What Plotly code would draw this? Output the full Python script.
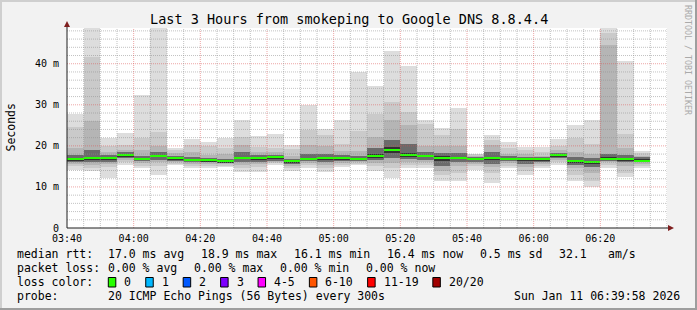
import plotly.graph_objects as go
from datetime import datetime, timedelta

# ---------------- data ----------------
day = "2026-01-11"
bin_times = ["03:40", "03:45", "03:50", "03:55", "04:00", "04:05", "04:10", "04:15",
             "04:20", "04:25", "04:30", "04:35", "04:40", "04:45", "04:50", "04:55",
             "05:00", "05:05", "05:10", "05:15", "05:20", "05:25", "05:30", "05:35",
             "05:40", "05:45", "05:50", "05:55", "06:00", "06:05", "06:10", "06:15",
             "06:20", "06:25", "06:30"]

# sorted ping ranks (ms) out of 20 pings per 5-minute step
p01 = [14.2, 13.9, 12.2, 15.4, 14.6, 12.8, 15.3, 14.6, 14.6, 14.9, 13.6, 13.6, 15.4, 13.8, 14.5, 13.6, 14.9, 15.3,
       14.0, 12.2, 14.5, 14.6, 11.4, 11.4, 14.1, 11.0, 14.5, 12.8, 14.5, 15.4, 11.4, 10.0, 14.6, 12.4, 14.5]
p02 = [15.0, 14.5, 14.8, 16.0, 15.2, 15.0, 15.7, 15.2, 15.2, 15.2, 14.5, 14.8, 15.8, 14.5, 15.3, 14.5, 15.4, 15.7,
       15.0, 14.5, 15.3, 15.3, 12.8, 13.5, 15.0, 13.5, 15.2, 13.8, 15.2, 16.0, 13.0, 11.5, 15.4, 13.5, 15.0]
p03 = [15.6, 15.3, 15.5, 16.6, 15.8, 16.0, 16.0, 15.6, 15.6, 15.5, 15.3, 15.5, 16.1, 15.0, 15.8, 15.3, 15.8, 16.0,
       15.8, 15.8, 16.0, 16.0, 14.0, 15.0, 15.6, 14.8, 15.8, 14.8, 15.7, 16.6, 14.5, 13.5, 16.0, 15.0, 15.5]
p07 = [16.0, 16.0, 16.0, 17.0, 16.2, 16.6, 16.4, 16.0, 16.0, 15.8, 16.0, 16.0, 16.4, 15.5, 16.2, 16.0, 16.2, 16.3,
       16.5, 17.0, 16.8, 16.6, 15.2, 16.0, 16.1, 15.7, 16.2, 15.6, 16.1, 17.1, 15.4, 14.8, 16.4, 16.0, 16.0]
p10 = [16.4, 16.6, 16.5, 17.4, 16.5, 17.2, 16.8, 16.4, 16.3, 16.0, 16.7, 16.5, 16.8, 15.9, 16.5, 16.6, 16.6, 16.5,
       17.0, 18.3, 17.3, 17.2, 16.4, 16.8, 16.6, 16.5, 16.6, 16.3, 16.4, 17.5, 15.9, 15.7, 16.7, 16.4, 16.2]
median = [16.7, 17.0, 17.0, 17.8, 16.7, 17.5, 17.0, 16.6, 16.5, 16.2, 17.1, 17.0, 17.2, 16.2, 16.7, 17.0, 17.0, 16.7,
          17.5, 18.9, 17.7, 17.5, 17.1, 17.1, 16.9, 17.0, 16.9, 16.7, 16.7, 17.7, 16.2, 16.1, 16.9, 16.7, 16.4]
p11 = [17.0, 17.4, 17.3, 18.0, 17.0, 17.8, 17.2, 16.8, 16.7, 16.4, 17.4, 17.3, 17.4, 16.4, 17.1, 17.3, 17.3, 17.0,
       18.0, 19.8, 18.2, 17.8, 17.5, 17.4, 17.1, 17.4, 17.1, 17.0, 17.0, 17.9, 16.5, 16.4, 17.2, 17.0, 16.7]
p14 = [17.8, 19.0, 17.8, 18.5, 17.6, 18.5, 17.6, 17.3, 17.0, 16.9, 18.5, 17.8, 17.8, 16.8, 18.0, 18.0, 17.8, 17.6,
       19.5, 21.4, 20.5, 18.5, 18.2, 18.2, 17.3, 18.5, 17.5, 17.4, 17.3, 18.2, 17.2, 17.0, 18.0, 17.8, 17.2]
p18 = [19.5, 26.0, 18.5, 19.0, 19.0, 20.0, 18.3, 18.5, 17.8, 18.0, 20.1, 18.5, 18.4, 17.5, 20.1, 20.0, 18.8, 18.7,
       22.2, 26.4, 25.0, 20.0, 20.0, 20.0, 17.6, 20.2, 18.1, 18.0, 17.6, 19.0, 18.5, 18.0, 44.5, 19.5, 17.6]
p19 = [24.6, 41.6, 20.0, 20.1, 21.8, 23.3, 19.0, 20.3, 20.0, 19.5, 22.2, 19.7, 19.5, 19.2, 23.8, 22.6, 20.5, 23.5,
       27.8, 30.7, 28.2, 25.4, 22.6, 24.2, 18.0, 21.5, 19.5, 19.0, 18.5, 20.0, 22.0, 20.5, 47.5, 23.0, 18.2]
p20 = [27.7, 50.0, 21.8, 23.1, 32.5, 50.0, 19.6, 21.6, 20.9, 22.0, 26.2, 22.3, 22.8, 20.3, 29.9, 24.0, 26.2, 38.1,
       34.5, 43.2, 39.4, 26.4, 24.3, 29.2, 18.1, 22.6, 20.9, 19.7, 19.7, 21.6, 25.0, 26.2, 50.0, 40.6, 18.8]

y_tick_vals = [0, 10, 20, 30, 40]
y_tick_text = ["0", "10 m", "20 m", "30 m", "40 m"]
x_tick_text = ["03:40", "04:00", "04:20", "04:40", "05:00", "05:20", "05:40", "06:00", "06:20"]

rtt_avg, rtt_max, rtt_min, rtt_now, rtt_sd, rtt_ams = 17.0, 18.9, 16.1, 16.4, 0.5, 32.1
loss_avg, loss_max, loss_min, loss_now = 0.00, 0.00, 0.00, 0.00
loss_labels = ["0", "1", "2", "3", "4-5", "6-10", "11-19", "20/20"]
loss_colors = ["#26ff00", "#00b8ff", "#0059ff", "#7e00ff", "#ff00ff", "#ff5500", "#ff0000", "#a10000"]

# ---------------- layout geometry ----------------
W, H = 697, 310
PL, PR, PT, PB = 67, 667, 28, 228          # plot box in pixels
YMAX = 48.7
t0 = datetime(2026, 1, 11, 3, 40)
t1 = datetime(2026, 1, 11, 6, 40)
MONO = "DejaVu Sans Mono"


def px(x):
    return (x - PL) / (PR - PL)


def py(y):
    return (PB - y) / (PB - PT)


xs = [f"{day} {t}" for t in bin_times]
STEP_MS = 5 * 60 * 1000

fig = go.Figure()

bands = [(p01, p20, "#dddddd"), (p02, p19, "#cacaca"), (p03, p18, "#b5b5b5"),
         (p07, p14, "#6b6b6b"), (p10, p11, "#323232")]
for lo, hi, col in bands:
    fig.add_trace(go.Bar(x=xs, base=lo, y=[h - l for l, h in zip(lo, hi)],
                         width=STEP_MS, offset=0, marker=dict(color=col, line=dict(width=0)),
                         hoverinfo="skip"))

mh = 2 * YMAX / (PB - PT)  # 2 px thick median bar
fig.add_trace(go.Bar(x=xs, base=[m - mh / 2 for m in median], y=[mh] * len(median),
                     width=STEP_MS, offset=0, marker=dict(color=loss_colors[0], line=dict(width=0))))

shapes = []
GRID = "rgba(143,143,143,0.55)"
MGRID = "rgba(222,79,79,0.5)"
# horizontal grid
for v in range(2, 49, 2):
    shapes.append(dict(type="line", xref="paper", yref="y", x0=0, x1=1, y0=v, y1=v, layer="above",
                       line=dict(color=MGRID if v % 10 == 0 else GRID, width=1, dash="1px,1px")))
# vertical grid
t = t0 + timedelta(minutes=5)
while t <= t1:
    major = (t.minute % 20 == 0) and t < t1
    shapes.append(dict(type="line", xref="x", yref="paper", x0=t, x1=t, y0=0, y1=1, layer="above",
                       line=dict(color=MGRID if major else GRID, width=1, dash="1px,1px")))
    t += timedelta(minutes=5)

# axes + arrows
shapes.append(dict(type="line", xref="paper", yref="paper", x0=0, x1=0, y0=0, y1=py(24), layer="above",
                   line=dict(color="#1f1f1f", width=1)))
shapes.append(dict(type="line", xref="paper", yref="paper", x0=0, x1=px(670), y0=0, y1=0, layer="above",
                   line=dict(color="#1f1f1f", width=1)))
shapes.append(dict(type="path", xref="paper", yref="paper", layer="above",
                   path=f"M {px(64)} {py(27)} L {px(70)} {py(27)} L {px(67)} {py(21)} Z",
                   fillcolor="#7f1f1f", line=dict(width=0)))
shapes.append(dict(type="path", xref="paper", yref="paper", layer="above",
                   path=f"M {px(668)} {py(225)} L {px(668)} {py(231)} L {px(674)} {py(228)} Z",
                   fillcolor="#7f1f1f", line=dict(width=0)))
# 3D frame
shapes.append(dict(type="rect", xref="paper", yref="paper", x0=px(0), x1=px(W), y0=py(0), y1=py(2),
                   fillcolor="#cfcfcf", line=dict(width=0), layer="below"))
shapes.append(dict(type="rect", xref="paper", yref="paper", x0=px(0), x1=px(2), y0=py(0), y1=py(H),
                   fillcolor="#cfcfcf", line=dict(width=0), layer="below"))
shapes.append(dict(type="rect", xref="paper", yref="paper", x0=px(0), x1=px(W), y0=py(H - 2), y1=py(H),
                   fillcolor="#9e9e9e", line=dict(width=0), layer="below"))
shapes.append(dict(type="rect", xref="paper", yref="paper", x0=px(W - 2), x1=px(W), y0=py(0), y1=py(H),
                   fillcolor="#9e9e9e", line=dict(width=0), layer="below"))

ann = []


def text(x, y, s, size=11.5, anchor="left", color="#000000", angle=0):
    ann.append(dict(x=px(x), y=py(y), xref="paper", yref="paper", text=s, showarrow=False,
                    xanchor=anchor, yanchor="middle", textangle=angle, borderpad=0,
                    font=dict(family=MONO, size=size, color=color)))


text(348.5, 19, "Last 3 Hours from smokeping to Google DNS 8.8.4.4", size=13.5, anchor="center")
text(10.5, 128, "Seconds", anchor="center", angle=-90)
text(688, 60, "RRDTOOL / TOBI OETIKER", size=8.3, anchor="center", color="#aaaaaa", angle=90)

r1, r2, r3, r4 = 254, 268, 282, 296
text(16, r1, "median rtt:")
text(107.3, r1, f"{rtt_avg:.1f} ms avg")
text(200, r1, f"{rtt_max:.1f} ms max")
text(293.3, r1, f"{rtt_min:.1f} ms min")
text(386, r1, f"{rtt_now:.1f} ms now")
text(479.3, r1, f"{rtt_sd:.1f} ms sd")
text(558.3, r1, f"{rtt_ams:.1f}")
text(607.3, r1, "am/s")

text(16, r2, "packet loss:")
text(107.3, r2, f"{loss_avg:.2f} % avg")
text(193.3, r2, f"{loss_max:.2f} % max")
text(279.3, r2, f"{loss_min:.2f} % min")
text(365, r2, f"{loss_now:.2f} % now")

text(16, r3, "loss color:")
bx = 108.3
for lab, col in zip(loss_labels, loss_colors):
    shapes.append(dict(type="rect", xref="paper", yref="paper", x0=px(bx), x1=px(bx + 7.5),
                       y0=py(277.5), y1=py(287), fillcolor=col, line=dict(color="#000000", width=1),
                       layer="above"))
    text(bx + 15, r3, lab)
    bx = bx + 15 + len(lab) * 6.94 + 15.5

text(16, r4, "probe:")
text(107.3, r4, "20 ICMP Echo Pings (56 Bytes) every 300s")
text(680.5, r4, "Sun Jan 11 06:39:58 2026", anchor="right")

tick_times = [f"{day} {s}" for s in x_tick_text]

fig.update_layout(
    width=W, height=H, barmode="overlay", bargap=0, showlegend=False,
    margin=dict(l=PL, r=W - PR, t=PT, b=H - PB, pad=0),
    paper_bgcolor="#f2f2f2", plot_bgcolor="#ffffff",
    shapes=shapes, annotations=ann,
    xaxis=dict(type="date", range=[t0, t1], showgrid=False, zeroline=False, showline=False,
               tickmode="array", tickvals=tick_times, ticktext=x_tick_text, ticks="",
               ticklabelstandoff=3,
               tickfont=dict(family=MONO, size=10, color="#000000"), fixedrange=True),
    yaxis=dict(range=[0, YMAX], showgrid=False, zeroline=False, showline=False,
               tickmode="array", tickvals=y_tick_vals, ticktext=y_tick_text, ticks="",
               ticklabelstandoff=7,
               tickfont=dict(family=MONO, size=10, color="#000000"), fixedrange=True),
    template="none",
)

fig.write_html("out.html")
